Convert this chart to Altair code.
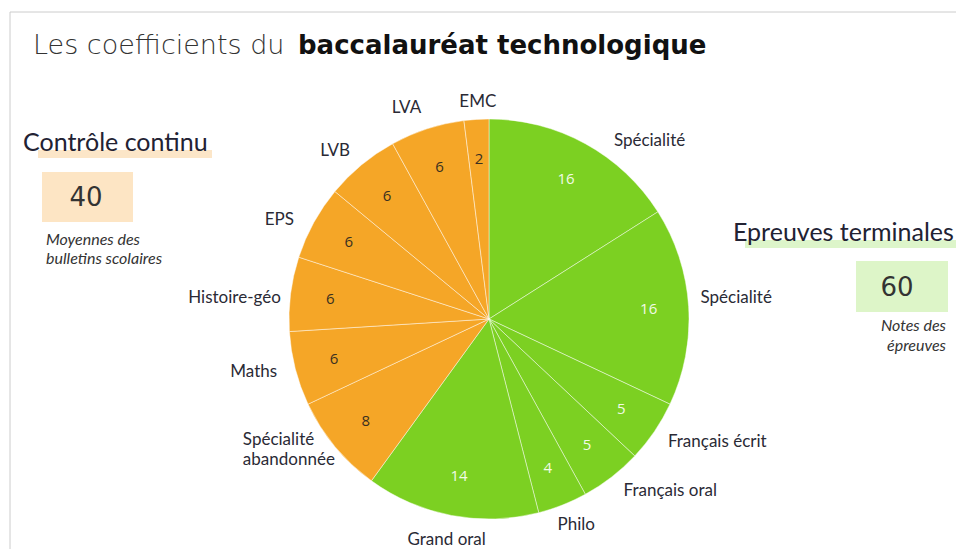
import altair as alt
import pandas as pd

# ---- data ----
subjects = ["Spécialité", "Spécialité", "Français écrit", "Français oral", "Philo", "Grand oral",
            "Spécialité\nabandonnée", "Maths", "Histoire-géo", "EPS", "LVB", "LVA", "EMC"]
coefs = [16, 16, 5, 5, 4, 14, 8, 6, 6, 6, 6, 6, 2]
groups = ["Epreuves terminales"] * 6 + ["Contrôle continu"] * 7

df = pd.DataFrame({"idx": list(range(len(subjects))), "label": subjects,
                   "value": coefs, "group": groups})

GREEN = "#7CD022"
ORANGE = "#F5A627"
CX, CY = 489, 319

color_scale = alt.Scale(domain=["Epreuves terminales", "Contrôle continu"], range=[GREEN, ORANGE])

base = alt.Chart(df).encode(
    theta=alt.Theta("value:Q", stack=True),
    order=alt.Order("idx:Q"),
    x=alt.value(CX), y=alt.value(CY),
)

arcs = base.mark_arc(radius=200, stroke="white", strokeWidth=1, strokeOpacity=0.45).encode(
    color=alt.Color("group:N", scale=color_scale, legend=None)
)

inner = base.mark_text(radius=160, font="Open Sans", fontSize=15, fontWeight=500,
                       baseline="middle").encode(
    text=alt.Text("value:Q"),
    color=alt.condition("datum.group == 'Contrôle continu'", alt.value("#3A3020"), alt.value("#F2FBE6")),
)

# (label index, align, dx, dy) — small hand-placement offsets as in the original
label_layout = [
    (0, "left", 16, 20), (1, "left", -14, -7), (2, "left", -8, -4), (3, "left", -4, -7),
    (4, "center", 4, -4), (5, "center", 0, -1), (6, "left", -72, -23), (7, "right", 7, -3),
    (8, "right", 16, 7), (9, "right", 3, 10), (10, "right", 5, 6), (11, "right", 2, 4),
    (12, "center", 3, 9),
]

def outer(i, align, dx, dy, r=226):
    return base.transform_calculate(
        t=f"datum.idx == {i} ? datum.label : ''"
    ).mark_text(radius=r, font="Lato", fontSize=17, align=align, baseline="middle",
                dx=dx, dy=dy, color="#2A2A35", lineBreak="\n", lineHeight=20).encode(text="t:N")

outer_layers = [outer(*l) for l in label_layout]

# ---- annotations ----
dummy = alt.Chart(pd.DataFrame({"a": [0]}))

def txt(s, x, y, size, **kw):
    return dummy.mark_text(text=s, fontSize=size, **kw).encode(x=alt.value(x), y=alt.value(y))

def rect(x1, x2, y1, y2, col):
    return dummy.mark_rect(color=col).encode(x=alt.value(x1), x2=alt.value(x2),
                                             y=alt.value(y1), y2=alt.value(y2))

border_top = dummy.mark_rule(color="#CCCCCC", strokeWidth=1).encode(
    x=alt.value(10), x2=alt.value(956), y=alt.value(12), y2=alt.value(12))
border_left = dummy.mark_rule(color="#CCCCCC", strokeWidth=1).encode(
    x=alt.value(10), x2=alt.value(10), y=alt.value(12), y2=alt.value(549))

title1 = txt("Les coefficients du", 33, 46, 27, font="DejaVu Sans", fontWeight=200,
             align="left", baseline="middle", color="#333333")
title2 = txt("baccalauréat technologique", 298, 46, 26, font="DejaVu Sans", fontWeight="bold",
             align="left", baseline="middle", color="#111111")

cc_band = rect(38, 212, 150, 158, "#FCE6C8")
cc_title = txt("Contrôle continu", 23, 143, 25, font="Lato", align="left",
               baseline="middle", color="#222233")
cc_box = rect(42, 133, 172, 222, "#FDE5C4")
cc_num = txt("40", 86, 198, 26, font="DejaVu Sans", align="center",
             baseline="middle", color="#333333")
cc_sub1 = txt("Moyennes des", 46, 240, 16, font="Lato", fontStyle="italic",
              align="left", baseline="middle", color="#333333")
cc_sub2 = txt("bulletins scolaires", 46, 259, 16, font="Lato", fontStyle="italic",
              align="left", baseline="middle", color="#333333")

et_band = rect(745, 956, 240, 248, "#DDF5CA")
et_title = txt("Epreuves terminales", 733, 233, 25, font="Lato", align="left",
               baseline="middle", color="#222233")
et_box = rect(856, 948, 261, 312, "#DDF5C8")
et_num = txt("60", 897, 288, 26, font="DejaVu Sans", align="center",
             baseline="middle", color="#333333")
et_sub1 = txt("Notes des", 946, 326, 16, font="Lato", fontStyle="italic",
              align="right", baseline="middle", color="#333333")
et_sub2 = txt("épreuves", 946, 346, 16, font="Lato", fontStyle="italic",
              align="right", baseline="middle", color="#333333")

chart = alt.layer(
    border_top, border_left,
    arcs, inner, *outer_layers,
    title1, title2,
    cc_band, cc_title, cc_box, cc_num, cc_sub1, cc_sub2,
    et_band, et_title, et_box, et_num, et_sub1, et_sub2,
).properties(
    width=956, height=549, padding=0, autosize=alt.AutoSizeParams(type="none"),
    background="white",
).configure_view(stroke=None)

chart.save("out.html", embed_options={"renderer": "svg", "actions": False})
